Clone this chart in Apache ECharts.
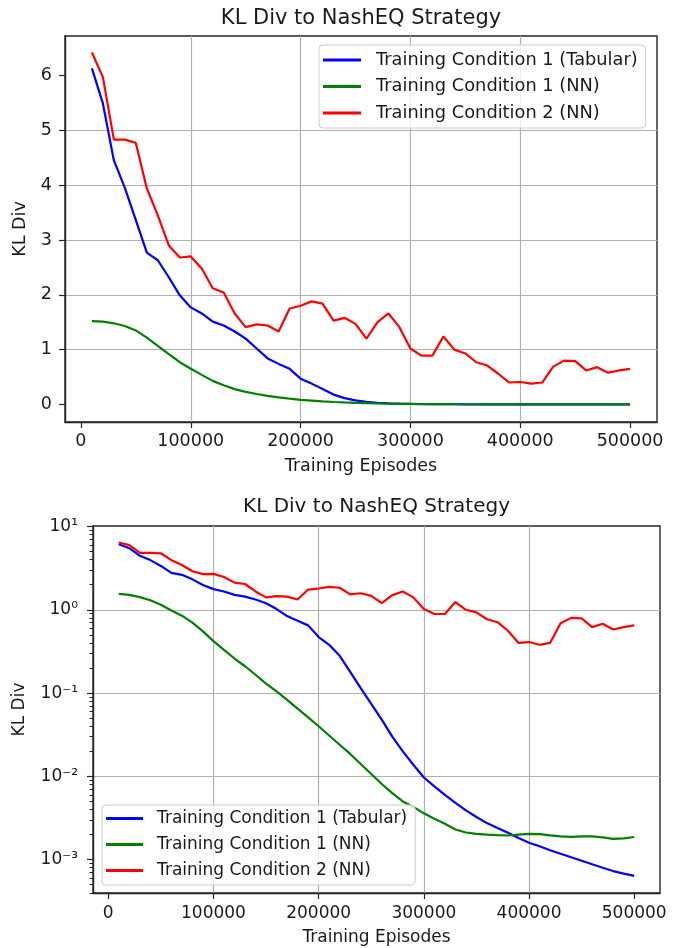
<!DOCTYPE html>
<html>
<head>
<meta charset="utf-8">
<script src="https://cdn.jsdelivr.net/npm/echarts@6/dist/echarts.min.js"></script>
<style>
  html, body { margin: 0; padding: 0; background: #fff; }
  #main { width: 677px; height: 948px; }
</style>
</head>
<body>
<div id="main"></div>
<script type="text/javascript">
// ---- data ----
var episodes = [
  10000, 20000, 30000, 40000, 50000, 60000, 70000, 80000, 90000, 100000,
  110000, 120000, 130000, 140000, 150000, 160000, 170000, 180000, 190000, 200000,
  210000, 220000, 230000, 240000, 250000, 260000, 270000, 280000, 290000, 300000,
  310000, 320000, 330000, 340000, 350000, 360000, 370000, 380000, 390000, 400000,
  410000, 420000, 430000, 440000, 450000, 460000, 470000, 480000, 490000, 500000
];

var tabularCond1 = [
  6.13, 5.49, 4.45, 3.95, 3.36, 2.77, 2.63, 2.32, 1.99, 1.77,
  1.66, 1.51, 1.44, 1.33, 1.20, 1.02, 0.84, 0.74, 0.65, 0.47,
  0.38, 0.28, 0.18, 0.115, 0.074, 0.048, 0.030, 0.020, 0.0138, 0.0097,
  0.0076, 0.0060, 0.0048, 0.0039, 0.00325, 0.00275, 0.0024, 0.0021, 0.00182, 0.0016,
  0.00145, 0.0013, 0.00118, 0.00107, 0.00097, 0.00088, 0.0008, 0.00073, 0.00068, 0.00064
];

// NN condition 1 as drawn in the linear panel
var nnCond1Linear = [
  1.52, 1.51, 1.48, 1.43, 1.35, 1.22, 1.07, 0.92, 0.77, 0.65,
  0.54, 0.43, 0.35, 0.28, 0.23, 0.19, 0.155, 0.13, 0.105, 0.085,
  0.07, 0.055, 0.045, 0.037, 0.03, 0.024, 0.019, 0.015, 0.012, 0.01,
  0.008, 0.0065, 0.0055, 0.0045, 0.004, 0.0035, 0.003, 0.0027, 0.0025, 0.0023,
  0.0022, 0.0021, 0.002, 0.002, 0.0019, 0.0019, 0.0019, 0.0018, 0.0018, 0.0019
];

// NN condition 1 as drawn in the log panel
var nnCond1Log = [
  1.55, 1.51, 1.42, 1.30, 1.15, 0.98, 0.85, 0.70, 0.55, 0.42,
  0.33, 0.26, 0.21, 0.166, 0.13, 0.105, 0.083, 0.065, 0.051, 0.040,
  0.031, 0.024, 0.0186, 0.0141, 0.0107, 0.0081, 0.0063, 0.0050, 0.0043, 0.0036,
  0.0031, 0.0027, 0.0023, 0.00212, 0.00204, 0.0020, 0.00197, 0.00195, 0.0020, 0.00204,
  0.00203, 0.00196, 0.0019, 0.00188, 0.0019, 0.0019, 0.00185, 0.00178, 0.0018, 0.00187
];

var nnCond2 = [
  6.42, 5.97, 4.83, 4.83, 4.77, 3.94, 3.45, 2.90, 2.68, 2.70,
  2.48, 2.12, 2.04, 1.66, 1.41, 1.46, 1.44, 1.33, 1.75, 1.80,
  1.88, 1.84, 1.53, 1.58, 1.47, 1.20, 1.50, 1.66, 1.41, 1.02,
  0.89, 0.89, 1.24, 1.00, 0.93, 0.77, 0.71, 0.56, 0.40, 0.41,
  0.38, 0.40, 0.69, 0.80, 0.79, 0.62, 0.68, 0.58, 0.62, 0.65
];

var seriesNames = ['Training Condition 1 (Tabular)', 'Training Condition 1 (NN)', 'Training Condition 2 (NN)'];
var seriesColors = ['#0000ff', '#008000', '#ff0000'];

var xTicks = [0, 100000, 200000, 300000, 400000, 500000];
var linearTicks = [0, 1, 2, 3, 4, 5, 6];
var logTicks = [0.001, 0.01, 0.1, 1, 10];
var logTickLabels = ['10\u207B\u00B3', '10\u207B\u00B2', '10\u207B\u00B9', '10\u2070', '10\u00B9'];

// minor ticks of the log axis (2..9 x 10^n)
var logMinorTicks = [];
[-4, -3, -2, -1, 0].forEach(function (e) {
  for (var m = 2; m <= 9; m++) {
    var v = +(m * Math.pow(10, e)).toPrecision(3);
    if (v >= 0.000398 && v <= 10.14) logMinorTicks.push(v);
  }
});

// ---- chart ----
var FONT = 'DejaVu Sans';
var INK = '#1a1a1a';
var FRAME = '#262626';
var GRIDLINE = '#b0b0b0';

function pairs(vals) {
  return episodes.map(function (x, i) { return [x, vals[i]]; });
}

function lineSeries(idx, vals, panel) {
  return {
    name: seriesNames[idx],
    type: 'line',
    xAxisIndex: panel,
    yAxisIndex: panel,
    data: pairs(vals),
    symbol: 'none',
    color: seriesColors[idx],
    itemStyle: { color: seriesColors[idx] },
    lineStyle: { color: seriesColors[idx], width: 2.2 },
    emphasis: { disabled: true }
  };
}

function xAxisFor(panel, fontSize, labelMargin, nameGap) {
  return {
    gridIndex: panel,
    type: 'value',
    min: -14500,
    max: 524500,
    splitNumber: 5,
    name: 'Training Episodes',
    nameLocation: 'middle',
    nameGap: nameGap,
    nameTextStyle: { fontFamily: FONT, fontSize: fontSize, color: INK },
    axisLine: { show: true, onZero: false, lineStyle: { color: FRAME, width: 1.4 } },
    axisTick: { show: true, length: 6, customValues: xTicks, lineStyle: { color: FRAME, width: 1.2 } },
    axisLabel: {
      customValues: xTicks,
      margin: labelMargin,
      fontFamily: FONT, fontSize: fontSize, color: INK,
      formatter: function (v) { return String(v); }
    },
    splitLine: { show: true, showMinLine: false, showMaxLine: false, lineStyle: { color: GRIDLINE, width: 1.2 } }
  };
}

var chart = echarts.init(document.getElementById('main'), null, { renderer: 'canvas' });

var option = {
  animation: false,
  backgroundColor: '#ffffff',
  title: [
    {
      text: 'KL Div to NashEQ Strategy',
      left: 361, top: 8, textAlign: 'center', padding: 0,
      textStyle: { fontFamily: FONT, fontSize: 21, fontWeight: 'normal', color: INK }
    },
    {
      text: 'KL Div to NashEQ Strategy',
      left: 376.5, top: 497, textAlign: 'center', padding: 0,
      textStyle: { fontFamily: FONT, fontSize: 20, fontWeight: 'normal', color: INK }
    }
  ],
  grid: [
    { left: 65, right: 20, top: 36, height: 386, show: true, borderColor: FRAME, borderWidth: 1.4, backgroundColor: 'transparent' },
    { left: 93, right: 17, top: 526, height: 367, show: true, borderColor: FRAME, borderWidth: 1.4, backgroundColor: 'transparent' }
  ],
  legend: [
    {
      data: seriesNames,
      orient: 'vertical',
      left: 319, top: 45,
      icon: 'rect', itemWidth: 38, itemHeight: 3, itemGap: 6.5,
      padding: [5, 8, 5, 4],
      backgroundColor: 'rgba(255,255,255,0.8)',
      borderColor: '#cccccc', borderWidth: 1, borderRadius: 4,
      selectedMode: false,
      textStyle: { fontFamily: FONT, fontSize: 17.8, color: INK, lineHeight: 20, padding: [0, 0, 0, 10] }
    },
    {
      data: seriesNames,
      orient: 'vertical',
      left: 102, top: 805,
      icon: 'rect', itemWidth: 37, itemHeight: 3, itemGap: 7,
      padding: [4, 8, 5, 4],
      backgroundColor: 'rgba(255,255,255,0.8)',
      borderColor: '#cccccc', borderWidth: 1, borderRadius: 4,
      selectedMode: false,
      textStyle: { fontFamily: FONT, fontSize: 17, color: INK, lineHeight: 19, padding: [0, 0, 0, 9] }
    }
  ],
  xAxis: [
    xAxisFor(0, 17.5, 10, 35),
    xAxisFor(1, 17, 12, 36)
  ],
  yAxis: [
    {
      gridIndex: 0,
      type: 'value',
      min: -0.32,
      max: 6.72,
      splitNumber: 7,
      name: 'KL Div',
      nameLocation: 'middle',
      nameGap: 36,
      nameTextStyle: { fontFamily: FONT, fontSize: 17.5, color: INK },
      axisLine: { show: true, onZero: false, lineStyle: { color: FRAME, width: 1.4 } },
      axisTick: { show: true, length: 6, customValues: linearTicks, lineStyle: { color: FRAME, width: 1.2 } },
      axisLabel: { customValues: linearTicks, margin: 13, fontFamily: FONT, fontSize: 17.5, color: INK },
      splitLine: { show: true, showMinLine: false, showMaxLine: false, lineStyle: { color: GRIDLINE, width: 1.2 } }
    },
    {
      gridIndex: 1,
      type: 'log',
      logBase: 10,
      min: 0.000398,
      max: 10.14,
      name: 'KL Div',
      nameLocation: 'middle',
      nameGap: 65,
      nameTextStyle: { fontFamily: FONT, fontSize: 17, color: INK },
      axisLine: { show: true, onZero: false, lineStyle: { color: FRAME, width: 1.4 } },
      axisTick: { show: true, length: 6, customValues: logTicks, lineStyle: { color: FRAME, width: 1.2 } },
      axisLabel: {
        customValues: logTicks,
        margin: 15,
        fontFamily: FONT, fontSize: 17, color: INK,
        formatter: function (v) {
          var i = logTicks.findIndex(function (t) { return Math.abs(Math.log10(t) - Math.log10(v)) < 1e-6; });
          return i >= 0 ? logTickLabels[i] : '';
        }
      },
      splitLine: { show: true, showMinLine: false, showMaxLine: false, lineStyle: { color: GRIDLINE, width: 1.2 } }
    },
    {
      gridIndex: 1,
      type: 'log',
      logBase: 10,
      min: 0.000398,
      max: 10.14,
      position: 'left',
      offset: 0,
      axisLine: { show: false, onZero: false },
      axisTick: { show: true, length: 3.5, customValues: logMinorTicks, lineStyle: { color: FRAME, width: 1 } },
      axisLabel: { show: false },
      splitLine: { show: false }
    }
  ],
  series: [
    lineSeries(0, tabularCond1, 0),
    lineSeries(1, nnCond1Linear, 0),
    lineSeries(2, nnCond2, 0),
    lineSeries(0, tabularCond1, 1),
    lineSeries(1, nnCond1Log, 1),
    lineSeries(2, nnCond2, 1)
  ]
};

chart.setOption(option);
</script>
</body>
</html>
